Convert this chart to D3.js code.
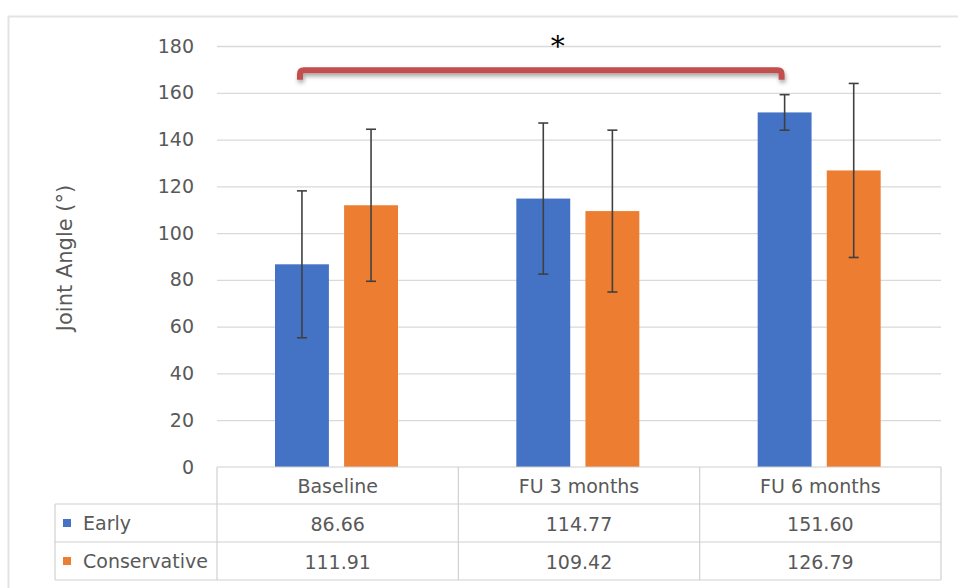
<!DOCTYPE html>
<html><head><meta charset="utf-8">
<script src="https://cdn.jsdelivr.net/npm/d3@7"></script>
<style>body{margin:0;background:#fff;}svg{display:block;}</style>
</head><body>
<svg id="c" width="958" height="588"></svg>
<script>
const categories = ["Baseline", "FU 3 months", "FU 6 months"];
const seriesNames = ["Early", "Conservative"];
const earlyValues = [86.66, 114.77, 151.60];
const conservativeValues = [111.91, 109.42, 126.79];
const earlySD = [31.4, 32.3, 7.6];
const conservativeSD = [32.5, 34.6, 37.2];
const yTicks = [0, 20, 40, 60, 80, 100, 120, 140, 160, 180];
const yLabel = "Joint Angle (°)";

const colors = {Early: "#4472C4", Conservative: "#ED7D31"};
const txt = "#595959", grid = "#d9d9d9";
const font = "'DejaVu Sans', sans-serif";
const fs = "19px";

const svg = d3.select("#c");
// outer frame
svg.append("path").attr("d", "M8.5,588 V16.5 H958").attr("fill","none").attr("stroke","#e3e3e3").attr("stroke-width",2);

const x = d3.scaleBand().domain(categories).range([217, 941]);
const x1 = d3.scaleBand().domain(seriesNames).range([58, 181]).paddingInner(0.22);
const y = d3.scaleLinear().domain([0, 180]).range([467, 46]);

// gridlines
svg.append("g").selectAll("line").data(yTicks.filter(d=>d>0)).join("line")
  .attr("x1", 217).attr("x2", 941).attr("y1", d=>y(d)+0.5).attr("y2", d=>y(d)+0.5)
  .attr("stroke", grid).attr("stroke-width", 1.3);

// y axis labels
const yAxis = d3.axisLeft(y).tickValues(yTicks).tickSize(0).tickPadding(0);
const ga = svg.append("g").attr("transform","translate(194,0)").call(yAxis);
ga.select(".domain").remove();
ga.selectAll("text").attr("fill", txt).style("font-family", font).style("font-size", fs);

svg.append("text").attr("transform","translate(72,258) rotate(-90)")
  .attr("text-anchor","middle").attr("fill", txt).style("font-family", font).style("font-size","21px")
  .text(yLabel);

const data = [];
categories.forEach((c,i)=>{
  data.push({cat:c, s:"Early", v:earlyValues[i], sd:earlySD[i]});
  data.push({cat:c, s:"Conservative", v:conservativeValues[i], sd:conservativeSD[i]});
});

// bars
svg.append("g").selectAll("rect").data(data).join("rect")
  .attr("x", d=>x(d.cat)+x1(d.s)).attr("width", x1.bandwidth())
  .attr("y", d=>y(d.v)).attr("height", d=>y(0)-y(d.v))
  .attr("fill", d=>colors[d.s]);

// error bars
const eb = svg.append("g").attr("stroke","#404040").attr("stroke-width",1.6);
data.forEach(d=>{
  const cx = x(d.cat)+x1(d.s)+x1.bandwidth()/2;
  eb.append("line").attr("x1",cx).attr("x2",cx).attr("y1",y(d.v+d.sd)).attr("y2",y(d.v-d.sd));
  eb.append("line").attr("x1",cx-5).attr("x2",cx+5).attr("y1",y(d.v+d.sd)).attr("y2",y(d.v+d.sd));
  eb.append("line").attr("x1",cx-5).attr("x2",cx+5).attr("y1",y(d.v-d.sd)).attr("y2",y(d.v-d.sd));
});

// significance bracket
const bx1 = x(categories[0])+x1("Early")+x1.bandwidth()/2 - 2;
const bx2 = x(categories[2])+x1("Early")+x1.bandwidth()/2 - 3;
const by = y(169.6), byl = y(165.6);
const defs = svg.append("defs");
const f = defs.append("filter").attr("id","sh").attr("x","-10%").attr("y","-50%").attr("width","120%").attr("height","250%");
f.append("feDropShadow").attr("dx",1).attr("dy",3).attr("stdDeviation",2).attr("flood-color","#000").attr("flood-opacity",0.35);
svg.append("path")
  .attr("d", `M${bx1},${byl} V${by+4} Q${bx1},${by} ${bx1+4},${by} H${bx2-4} Q${bx2},${by} ${bx2},${by+4} V${byl}`)
  .attr("fill","none").attr("stroke","#C0504D").attr("stroke-width",6).attr("filter","url(#sh)");
svg.append("text").attr("x", (bx1+bx2)/2 + 17).attr("y", 56).attr("text-anchor","middle")
  .style("font-family","'DejaVu Serif', serif").style("font-size","28px").attr("fill","#000").text("*");

// data table
const tLeft = 55, tRight = 941, rows = [467, 504, 542, 580];
const tg = svg.append("g").attr("stroke","#d0d0d0").attr("stroke-width",1.2).attr("fill","none");
tg.append("line").attr("x1",217).attr("x2",tRight).attr("y1",rows[0]).attr("y2",rows[0]);
[1,2,3].forEach(r=>tg.append("line").attr("x1",tLeft).attr("x2",tRight).attr("y1",rows[r]).attr("y2",rows[r]));
tg.append("line").attr("x1",tLeft).attr("x2",tLeft).attr("y1",rows[1]).attr("y2",rows[3]);
[217, ...categories.map(c=>x(c)+x.bandwidth())].forEach(vx=>
  tg.append("line").attr("x1",vx).attr("x2",vx).attr("y1",rows[0]).attr("y2",rows[3]));

const tt = svg.append("g").attr("fill",txt).style("font-family",font).style("font-size",fs).attr("text-anchor","middle");
categories.forEach((c,i)=>{
  const cx = x(c)+x.bandwidth()/2;
  tt.append("text").attr("x",cx).attr("y",(rows[0]+rows[1])/2+7).text(c);
  tt.append("text").attr("x",cx).attr("y",(rows[1]+rows[2])/2+7.5).text(earlyValues[i].toFixed(2));
  tt.append("text").attr("x",cx).attr("y",(rows[2]+rows[3])/2+7.5).text(conservativeValues[i].toFixed(2));
});
seriesNames.forEach((s,i)=>{
  const cy = (rows[i+1]+rows[i+2])/2;
  svg.append("rect").attr("x",63).attr("y",cy-4).attr("width",8).attr("height",8).attr("fill",colors[s]);
  svg.append("text").attr("x",83).attr("y",cy+7).attr("fill",txt).style("font-family",font).style("font-size",fs).text(s);
});
</script>
</body></html>
